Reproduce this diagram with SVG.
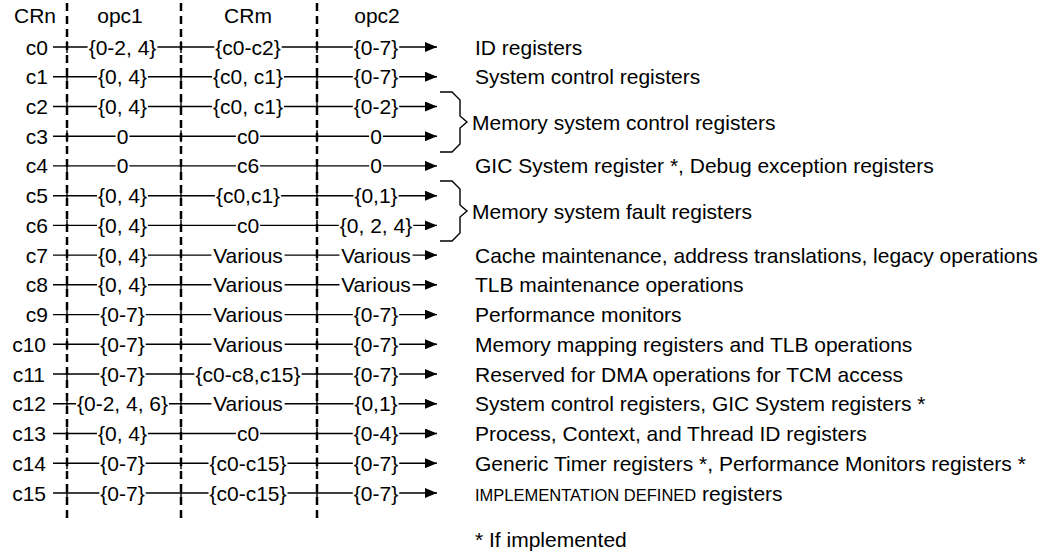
<svg xmlns="http://www.w3.org/2000/svg" width="1054" height="554" viewBox="0 0 1054 554">
<style>
text{font-family:"Liberation Sans",Arial,Helvetica,sans-serif;font-size:21px;fill:#000}
.m{text-anchor:middle}
.e{text-anchor:end}
.sc{font-size:16.5px}
.ln{fill:none;stroke:#000;stroke-width:1.4}
.cn{fill:none;stroke:#000;stroke-width:1.4;marker-end:url(#ah)}
.dash{fill:none;stroke:#000;stroke-width:2.5;stroke-dasharray:8 5}
.tick{fill:none;stroke:#000;stroke-width:1.4}
</style>
<defs>
<marker id="ah" viewBox="0 0 12 10" refX="12" refY="5" markerWidth="12" markerHeight="10" markerUnits="userSpaceOnUse" orient="auto">
<path d="M0,0 L12,5 L0,10 z" fill="#000"/>
</marker>
</defs>
<rect width="1054" height="554" fill="#fff"/>

<g id="columns">
<path class="dash" d="M67,3 V518 M181,3 V518 M317,3 V518"/>
<path class="tick" d="M67,41 v12 M181,41 v12 M317,41 v12 M67,70.7 v12 M181,70.7 v12 M317,70.7 v12 M67,100.5 v12 M181,100.5 v12 M317,100.5 v12 M67,130.2 v12 M181,130.2 v12 M317,130.2 v12 M67,159.9 v12 M181,159.9 v12 M317,159.9 v12 M67,189.7 v12 M181,189.7 v12 M317,189.7 v12 M67,219.4 v12 M181,219.4 v12 M317,219.4 v12 M67,249.1 v12 M181,249.1 v12 M317,249.1 v12 M67,278.8 v12 M181,278.8 v12 M317,278.8 v12 M67,308.6 v12 M181,308.6 v12 M317,308.6 v12 M67,338.3 v12 M181,338.3 v12 M317,338.3 v12 M67,368 v12 M181,368 v12 M317,368 v12 M67,397.8 v12 M181,397.8 v12 M317,397.8 v12 M67,427.5 v12 M181,427.5 v12 M317,427.5 v12 M67,457.2 v12 M181,457.2 v12 M317,457.2 v12 M67,487 v12 M181,487 v12 M317,487 v12"/>
</g>

<g id="header">
<text class="m" x="35" y="22.5">CRn</text>
<text class="m" x="120" y="22.5">opc1</text>
<text class="m" x="248" y="22.5">CRm</text>
<text class="m" x="377" y="22.5">opc2</text>
</g>

<g id="connectors">
<path class="cn" d="M53,47 H87.6 M157.4,47 H214.3 M281.7,47 H352.8 M399.2,47 H437"/>
<path class="cn" d="M53,76.7 H97 M148,76.7 H212 M284,76.7 H352.8 M399.2,76.7 H437"/>
<path class="cn" d="M53,106.5 H97 M148,106.5 H212 M284,106.5 H352.8 M399.2,106.5 H437"/>
<path class="cn" d="M53,136.2 H115.6 M129.4,136.2 H235.9 M260.1,136.2 H369.1 M382.9,136.2 H437"/>
<path class="cn" d="M53,165.9 H115.6 M129.4,165.9 H235.9 M260.1,165.9 H369.1 M382.9,165.9 H437"/>
<path class="cn" d="M53,195.7 H97 M148,195.7 H214.9 M281.1,195.7 H353.4 M398.6,195.7 H437"/>
<path class="cn" d="M53,225.4 H97 M148,225.4 H235.9 M260.1,225.4 H338.8 M413.2,225.4 H437"/>
<path class="cn" d="M53,255.1 H97 M148,255.1 H211.4 M284.6,255.1 H339.4 M412.6,255.1 H437"/>
<path class="cn" d="M53,284.8 H97 M148,284.8 H211.4 M284.6,284.8 H339.4 M412.6,284.8 H437"/>
<path class="cn" d="M53,314.6 H99.3 M145.7,314.6 H211.4 M284.6,314.6 H352.8 M399.2,314.6 H437"/>
<path class="cn" d="M53,344.3 H99.3 M145.7,344.3 H211.4 M284.6,344.3 H352.8 M399.2,344.3 H437"/>
<path class="cn" d="M53,374 H99.3 M145.7,374 H194.4 M301.6,374 H352.8 M399.2,374 H437"/>
<path class="cn" d="M53,403.8 H76 M169,403.8 H211.4 M284.6,403.8 H353.4 M398.6,403.8 H437"/>
<path class="cn" d="M53,433.5 H97 M148,433.5 H235.9 M260.1,433.5 H352.8 M399.2,433.5 H437"/>
<path class="cn" d="M53,463.2 H99.3 M145.7,463.2 H208.5 M287.5,463.2 H352.8 M399.2,463.2 H437"/>
<path class="cn" d="M53,493 H99.3 M145.7,493 H208.5 M287.5,493 H352.8 M399.2,493 H437"/>
</g>

<g id="braces">
<path class="ln" d="M440,92 H452 L460,100 V116 L467,122 L460,128 V144 L452,152 H440"/>
<path class="ln" d="M440,181 H452 L460,189 V205 L467,211 L460,217 V233 L452,241 H440"/>
</g>

<g id="c0"><text class="e" x="48" y="54.5">c0</text><text class="m" x="122.5" y="54.5">{0-2, 4}</text><text class="m" x="248" y="54.5">{c0-c2}</text><text class="m" x="376" y="54.5">{0-7}</text><text x="475" y="54.5">ID registers</text></g>
<g id="c1"><text class="e" x="48" y="84.2">c1</text><text class="m" x="122.5" y="84.2">{0, 4}</text><text class="m" x="248" y="84.2">{c0, c1}</text><text class="m" x="376" y="84.2">{0-7}</text><text x="475" y="84.2">System control registers</text></g>
<g id="c2"><text class="e" x="48" y="114">c2</text><text class="m" x="122.5" y="114">{0, 4}</text><text class="m" x="248" y="114">{c0, c1}</text><text class="m" x="376" y="114">{0-2}</text></g>
<g id="c3"><text class="e" x="48" y="143.7">c3</text><text class="m" x="122.5" y="143.7">0</text><text class="m" x="248" y="143.7">c0</text><text class="m" x="376" y="143.7">0</text></g>
<g id="mem-ctrl"><text x="472" y="129.5">Memory system control registers</text></g>
<g id="c4"><text class="e" x="48" y="173.4">c4</text><text class="m" x="122.5" y="173.4">0</text><text class="m" x="248" y="173.4">c6</text><text class="m" x="376" y="173.4">0</text><text x="475" y="173.4">GIC System register *, Debug exception registers</text></g>
<g id="c5"><text class="e" x="48" y="203.2">c5</text><text class="m" x="122.5" y="203.2">{0, 4}</text><text class="m" x="248" y="203.2">{c0,c1}</text><text class="m" x="376" y="203.2">{0,1}</text></g>
<g id="c6"><text class="e" x="48" y="232.9">c6</text><text class="m" x="122.5" y="232.9">{0, 4}</text><text class="m" x="248" y="232.9">c0</text><text class="m" x="376" y="232.9">{0, 2, 4}</text></g>
<g id="mem-fault"><text x="472" y="218.5">Memory system fault registers</text></g>
<g id="c7"><text class="e" x="48" y="262.6">c7</text><text class="m" x="122.5" y="262.6">{0, 4}</text><text class="m" x="248" y="262.6">Various</text><text class="m" x="376" y="262.6">Various</text><text x="475" y="262.6">Cache maintenance, address translations, legacy operations</text></g>
<g id="c8"><text class="e" x="48" y="292.3">c8</text><text class="m" x="122.5" y="292.3">{0, 4}</text><text class="m" x="248" y="292.3">Various</text><text class="m" x="376" y="292.3">Various</text><text x="475" y="292.3">TLB maintenance operations</text></g>
<g id="c9"><text class="e" x="48" y="322.1">c9</text><text class="m" x="122.5" y="322.1">{0-7}</text><text class="m" x="248" y="322.1">Various</text><text class="m" x="376" y="322.1">{0-7}</text><text x="475" y="322.1">Performance monitors</text></g>
<g id="c10"><text class="e" x="46" y="351.8">c10</text><text class="m" x="122.5" y="351.8">{0-7}</text><text class="m" x="248" y="351.8">Various</text><text class="m" x="376" y="351.8">{0-7}</text><text x="475" y="351.8">Memory mapping registers and TLB operations</text></g>
<g id="c11"><text class="e" x="45" y="381.5">c11</text><text class="m" x="122.5" y="381.5">{0-7}</text><text class="m" x="248" y="381.5">{c0-c8,c15}</text><text class="m" x="376" y="381.5">{0-7}</text><text x="475" y="381.5">Reserved for DMA operations for TCM access</text></g>
<g id="c12"><text class="e" x="46" y="411.3">c12</text><text class="m" x="122.5" y="411.3">{0-2, 4, 6}</text><text class="m" x="248" y="411.3">Various</text><text class="m" x="376" y="411.3">{0,1}</text><text x="475" y="411.3">System control registers, GIC System registers *</text></g>
<g id="c13"><text class="e" x="46" y="441">c13</text><text class="m" x="122.5" y="441">{0, 4}</text><text class="m" x="248" y="441">c0</text><text class="m" x="376" y="441">{0-4}</text><text x="475" y="441">Process, Context, and Thread ID registers</text></g>
<g id="c14"><text class="e" x="46" y="470.7">c14</text><text class="m" x="122.5" y="470.7">{0-7}</text><text class="m" x="248" y="470.7">{c0-c15}</text><text class="m" x="376" y="470.7">{0-7}</text><text x="475" y="470.7">Generic Timer registers *, Performance Monitors registers *</text></g>
<g id="c15"><text class="e" x="46" y="500.5">c15</text><text class="m" x="122.5" y="500.5">{0-7}</text><text class="m" x="248" y="500.5">{c0-c15}</text><text class="m" x="376" y="500.5">{0-7}</text><text x="475" y="500.5"><tspan class="sc">IMPLEMENTATION DEFINED</tspan> registers</text></g>
<g id="footnote"><text x="475" y="547">* If implemented</text></g>
</svg>
